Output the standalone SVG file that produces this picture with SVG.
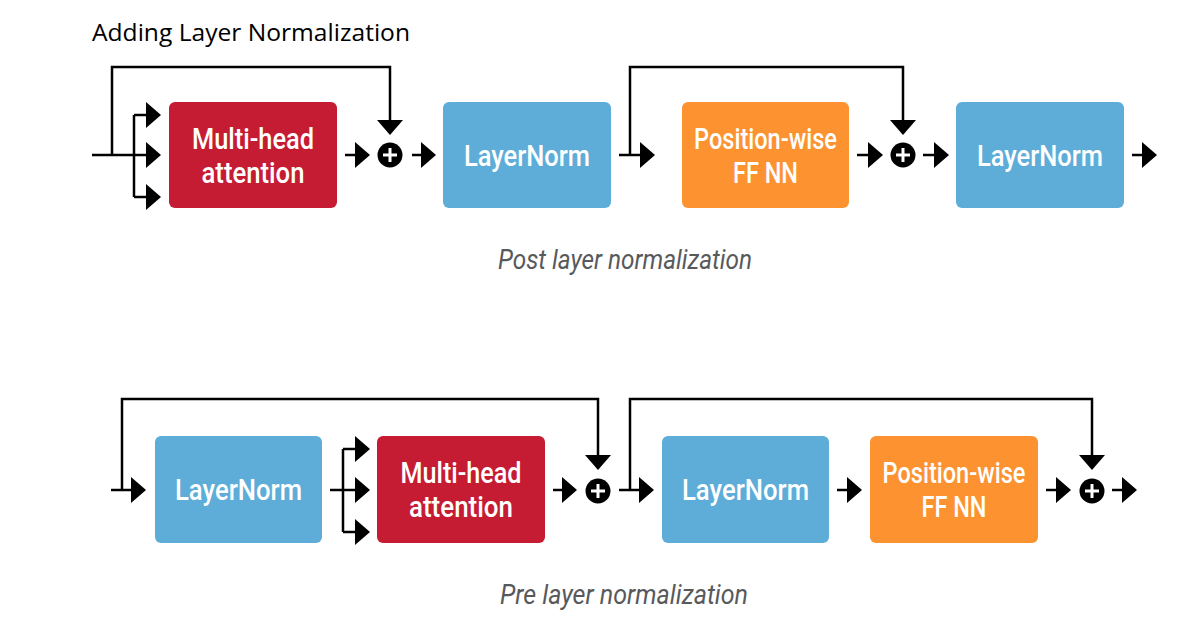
<svg xmlns="http://www.w3.org/2000/svg" width="1182" height="630" viewBox="0 0 1182 630">
<defs>
<marker id="ah" markerUnits="userSpaceOnUse" markerWidth="16" markerHeight="27" refX="7" refY="13" orient="auto" viewBox="0 0 16 26">
<path d="M0,0 L15,13 L0,26 Z" fill="#000"/>
</marker>
<style>
.c{fill:none;stroke:#000;stroke-width:2.5}
.a{marker-end:url(#ah)}
.box{stroke:none}
.red{fill:#C61C33}
.blue{fill:#5DADD8}
.orange{fill:#FD9231}
.bt{font-family:Roboto,"Noto Sans",sans-serif;font-weight:500;font-size:30px;fill:#fff;text-anchor:middle}
.cap{font-family:Roboto,"Noto Sans",sans-serif;font-style:italic;font-size:27px;fill:#58595B;text-anchor:middle}
.title{font-family:"Open Sans","Noto Sans",sans-serif;font-size:24px;fill:#000}
.pc{fill:#000}
.pl{stroke:#fff;stroke-width:3;fill:none}
</style>
</defs>
<rect width="1182" height="630" fill="#fff"/>
<text class="title" x="92" y="41" textLength="318" lengthAdjust="spacingAndGlyphs">Adding Layer Normalization</text>

<g id="connectors">
<!-- top row -->
<path class="c a" d="M92,155 H153"/>
<path class="c" d="M134,115 V197"/>
<path class="c a" d="M134,115 H153"/>
<path class="c a" d="M134,197 H153"/>
<path class="c a" d="M112,155 V67 H390 V127"/>
<path class="c a" d="M345,155 H362"/>
<path class="c a" d="M412,155 H428"/>
<path class="c a" d="M619,155 H647"/>
<path class="c a" d="M630,155 V67 H903 V127"/>
<path class="c a" d="M857,155 H875"/>
<path class="c a" d="M923,155 H941"/>
<path class="c a" d="M1132,155 H1149"/>
<!-- bottom row -->
<path class="c a" d="M111,490 H138"/>
<path class="c a" d="M122,490 V399 H598 V462"/>
<path class="c a" d="M330,490 H362"/>
<path class="c" d="M343,449 V532"/>
<path class="c a" d="M343,449 H362"/>
<path class="c a" d="M343,532 H362"/>
<path class="c a" d="M553,490 H569"/>
<path class="c a" d="M619,490 H646"/>
<path class="c a" d="M630,490 V399 H1092 V462"/>
<path class="c a" d="M837,490 H854"/>
<path class="c a" d="M1046,490 H1063"/>
<path class="c a" d="M1112,490 H1129"/>
</g>

<g id="post-mha">
<rect class="box red" x="169" y="102" width="168" height="106" rx="6"/>
<text class="bt" x="253" y="149" textLength="122" lengthAdjust="spacingAndGlyphs">Multi-head</text>
<text class="bt" x="253" y="183" textLength="103" lengthAdjust="spacingAndGlyphs">attention</text>
</g>
<g id="post-add1">
<circle class="pc" cx="390" cy="155" r="12.5"/>
<path class="pl" d="M383,155 H397 M390,148 V162"/>
</g>
<g id="post-ln1">
<rect class="box blue" x="443" y="102" width="168" height="106" rx="6"/>
<text class="bt" x="527" y="166" textLength="126" lengthAdjust="spacingAndGlyphs">LayerNorm</text>
</g>
<g id="post-ffn">
<rect class="box orange" x="682" y="102" width="167" height="106" rx="6"/>
<text class="bt" x="765.5" y="149" textLength="143" lengthAdjust="spacingAndGlyphs">Position-wise</text>
<text class="bt" x="765.5" y="183" textLength="65" lengthAdjust="spacingAndGlyphs">FF NN</text>
</g>
<g id="post-add2">
<circle class="pc" cx="903" cy="155" r="12.5"/>
<path class="pl" d="M896,155 H910 M903,148 V162"/>
</g>
<g id="post-ln2">
<rect class="box blue" x="956" y="102" width="168" height="106" rx="6"/>
<text class="bt" x="1040" y="166" textLength="126" lengthAdjust="spacingAndGlyphs">LayerNorm</text>
</g>
<text class="cap" x="625" y="269" textLength="254" lengthAdjust="spacingAndGlyphs">Post layer normalization</text>

<g id="pre-ln1">
<rect class="box blue" x="155" y="436" width="167" height="107" rx="6"/>
<text class="bt" x="238.5" y="500" textLength="127" lengthAdjust="spacingAndGlyphs">LayerNorm</text>
</g>
<g id="pre-mha">
<rect class="box red" x="377" y="436" width="168" height="107" rx="6"/>
<text class="bt" x="461" y="483" textLength="121" lengthAdjust="spacingAndGlyphs">Multi-head</text>
<text class="bt" x="461" y="517" textLength="104" lengthAdjust="spacingAndGlyphs">attention</text>
</g>
<g id="pre-add1">
<circle class="pc" cx="598" cy="491" r="12.5"/>
<path class="pl" d="M591,491 H605 M598,484 V498"/>
</g>
<g id="pre-ln2">
<rect class="box blue" x="662" y="436" width="167" height="107" rx="6"/>
<text class="bt" x="745.5" y="500" textLength="127" lengthAdjust="spacingAndGlyphs">LayerNorm</text>
</g>
<g id="pre-ffn">
<rect class="box orange" x="870" y="436" width="168" height="107" rx="6"/>
<text class="bt" x="954" y="483" textLength="143" lengthAdjust="spacingAndGlyphs">Position-wise</text>
<text class="bt" x="954" y="517" textLength="65" lengthAdjust="spacingAndGlyphs">FF NN</text>
</g>
<g id="pre-add2">
<circle class="pc" cx="1092" cy="491" r="12.5"/>
<path class="pl" d="M1085,491 H1099 M1092,484 V498"/>
</g>
<text class="cap" x="624" y="604" textLength="248" lengthAdjust="spacingAndGlyphs">Pre layer normalization</text>
</svg>
